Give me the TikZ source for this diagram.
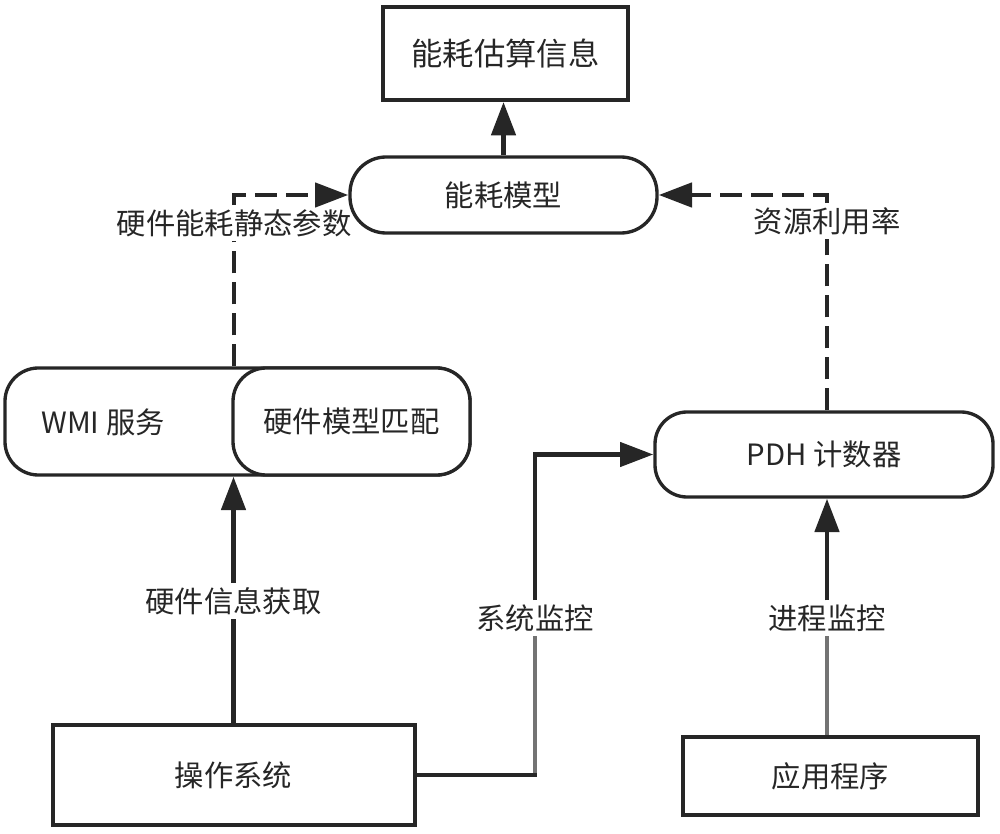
\documentclass[tikz,border=0pt]{standalone}
\usepackage{fontspec}
\setmainfont{Noto Sans CJK SC}
\usetikzlibrary{arrows.meta}

\tikzset{
  box/.style={draw=black!85, line width=3pt, fill=white, inner sep=0pt},
  capsule/.style={draw=black!85, line width=2.5pt, fill=white, rounded corners=#1, inner sep=0pt},
  lbl/.style={inner sep=3pt},
  link/.style={draw=black!85, line width=3.5pt},
  greylink/.style={draw=black!55, line width=3pt},
  dlink/.style={link, dash pattern=on 16.5pt off 6.75pt},
  tip/.style={-{Triangle[length=25pt,width=18pt]}}
}

\begin{document}
\begin{tikzpicture}[x=0.75pt,y=0.75pt,yscale=-1,font=\fontsize{22}{26}\selectfont,text=black!85]
\useasboundingbox (0,0) rectangle (1000,834);

%Shape: Rectangle [est]
\node (est) [box, minimum width=183.75pt, minimum height=69.75pt, font=\fontsize{23.5}{28}\selectfont] at (505.5,53.5) {能耗估算信息};
%Shape: Capsule [model]
\node (model) [capsule=27pt, minimum width=230.25pt, minimum height=57pt] at (503.5,195) {能耗模型};
%Shape: Capsule [wmi]
\node (wmi) [capsule=25pt, minimum width=348.75pt, minimum height=80.25pt] at (237.5,421.5) {};
%Shape: Capsule [match]
\node (match) [capsule=25pt, minimum width=177.75pt, minimum height=80.25pt] at (351.5,421.5) {硬件模型匹配};
%Shape: Capsule [pdh]
\node (pdh) [capsule=24pt, minimum width=253.5pt, minimum height=63.75pt] at (824,454.5) {PDH 计数器};
%Shape: Rectangle [os]
\node (os) [box, minimum width=271.5pt, minimum height=75pt] at (233.5,775) {操作系统};
%Shape: Rectangle [app]
\node (app) [box, minimum width=221.25pt, minimum height=58.5pt] at (830.5,776) {应用程序};

% Text Node
\node (wmitxt) at (103,422) {WMI 服务};
% Text Node
\node (lblstatic) [lbl] at (234,223) {硬件能耗静态参数};
% Text Node
\node (lblrate) [lbl] at (827,221) {资源利用率};
% Text Node
\node (lblhw) [lbl] at (233.5,601) {硬件信息获取};
% Text Node
\node (lblsys) [lbl] at (535,618) {系统监控};
% Text Node
\node (lblproc) [lbl] at (827,618) {进程监控};

%Straight Lines
\draw [link,tip] (model.north) -- (model.north |- est.south);
%Dashed Lines
\draw [dlink] (wmi.north -| lblstatic) -- (lblstatic);
\draw [dlink,tip] (lblstatic) |- (model.west);
\draw [dlink] (pdh.north -| lblrate) -- (lblrate);
\draw [dlink,tip] (lblrate) |- (model.east);
%Straight Lines
\draw [link] (os) -- (lblhw);
\draw [link,tip] (lblhw) -- (lblhw |- wmi.south);
\coordinate (sysbend) at (lblsys |- os.east);
\draw [greylink] (os.east) -| (lblsys);
\draw [link,line cap=rect] (os.east) -- (sysbend);
\draw [link,tip] (lblsys) |- (pdh.west);
\draw [greylink] (app.north -| lblproc) -- (lblproc);
\draw [link,tip] (lblproc) -- (lblproc |- pdh.south);

\end{tikzpicture}
\end{document}
